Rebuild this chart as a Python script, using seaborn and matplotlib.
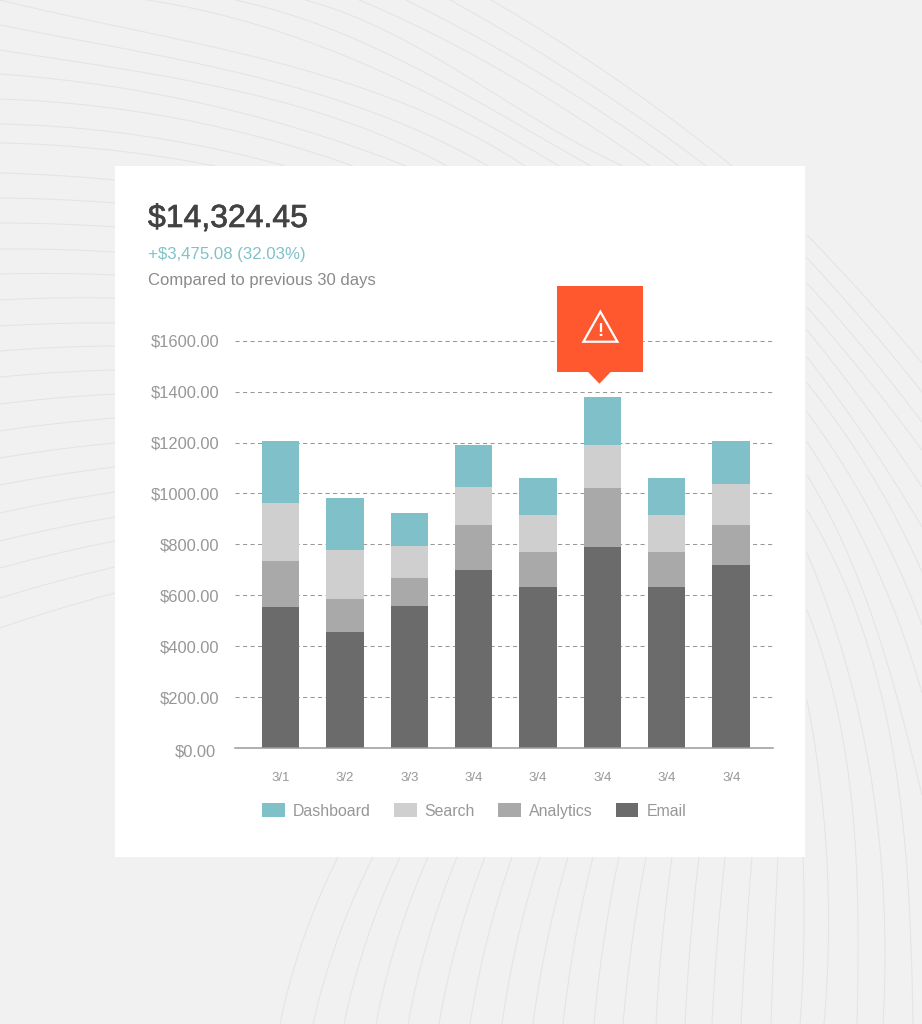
import numpy as np
import pandas as pd
import matplotlib
matplotlib.use("Agg")
import matplotlib.pyplot as plt
import matplotlib.transforms as mtrans
import matplotlib.patheffects as pe
from matplotlib.patches import Rectangle, Polygon
import seaborn as sns

# chart values
dates = ['3/1', '3/2', '3/3', '3/4', '3/4', '3/4', '3/4', '3/4']
email = [554, 456, 558, 700, 633, 790, 633, 719]
analytics = [181, 130, 110, 177, 137, 232, 137, 158]
search = [228, 192, 126, 149, 146, 169, 146, 161]
dashboard = [244, 205, 130, 165, 145, 189, 145, 169]
y_ticks = [0, 200, 400, 600, 800, 1000, 1200, 1400, 1600]
y_labels = ['$0.00', '$200.00', '$400.00', '$600.00', '$800.00', '$1000.00', '$1200.00', '$1400.00', '$1600.00']

colors = {'Dashboard': '#80C1C9', 'Search': '#CFCFCF', 'Analytics': '#A9A9A9', 'Email': '#6B6B6B'}
BG = '#F1F1F1'
ARC = '#E4E4E4'
LABEL = '#979797'
ALERT = '#FF582F'

# background arcs, in image pixels (decoration only)
left_y0 = [173, 198, 223, 249, 274, 300, 326, 351, 377, 404, 431, 458, 485, 513, 541, 568, 598, 628]
left_y1 = [180, 203, 227, 252, 275, 298, 323, 346, 370, 394, 418, 443, 467, 492, 517, 541, 567, 593]
top_arcs = [
    [(0, 143), (110, 150), (215, 166)],
    [(0, 124), (150, 137), (285, 166)],
    [(0, 99), (180, 119), (353, 166)],
    [(0, 74), (200, 103), (406, 166)],
    [(0, 50), (200, 83), (400, 143), (447, 166)],
    [(0, 25), (200, 64), (400, 123), (488, 166)],
    [(0, 0), (200, 44), (400, 102), (525, 166)],
    [(147, 0), (280, 32), (400, 80), (559, 166)],
    [(235, 0), (320, 25), (400, 60), (591, 166)],
    [(305, 0), (355, 17), (400, 38), (623, 166)],
    [(359, 0), (400, 18), (500, 70), (650, 166)],
    [(406, 0), (500, 50), (679, 166)],
    [(450, 0), (560, 65), (706, 166)],
    [(491, 0), (610, 75), (732, 166)],
]
right_arcs = [
    [(807, 235), (865, 297), (922, 363)],
    [(807, 258), (865, 323), (922, 392)],
    [(807, 283), (865, 350), (922, 422)],
    [(807, 307), (865, 376), (922, 450)],
    [(807, 330), (865, 405), (922, 487)],
    [(807, 357), (865, 437), (922, 527)],
    [(807, 383), (897, 520), (922, 572)],
    [(807, 412), (875, 520), (922, 625)],
    [(807, 442), (853, 520), (890, 600), (922, 693)],
    [(807, 475), (832, 520), (880, 640), (922, 795)],
    [(807, 510), (887, 720), (907, 870), (913, 1024)],
    [(807, 553), (877, 820), (885, 953), (883, 1024)],
    [(807, 610), (850, 787), (858, 920), (857, 1024)],
    [(807, 700), (824, 820), (828, 887), (824, 1024)],
    [(803, 857), (804, 930), (800, 1024)],
]
bottom_x0 = [338, 373, 400, 428, 457, 485, 512, 540, 568, 593, 619, 646, 672, 699, 725, 752, 778]
bottom_x1 = [280, 313, 344, 376, 408, 439, 470, 502, 533, 563, 594, 623, 656, 685, 712, 741, 771]


def smooth(pts):
    pts = np.array(pts, dtype=float)
    steps = np.r_[0, np.cumsum(np.hypot(*np.diff(pts, axis=0).T))]
    steps = steps / steps[-1]
    deg = len(pts) - 1
    t = np.linspace(0, 1, 80)
    return np.polyval(np.polyfit(steps, pts[:, 0], deg), t), np.polyval(np.polyfit(steps, pts[:, 1], deg), t)


sns.set_theme(style="white")
plt.rcParams['font.family'] = ['Liberation Sans', 'DejaVu Sans']

fig = plt.figure(figsize=(9.22, 10.24), dpi=100, facecolor=BG)

# full figure layer in pixel coordinates
bg = fig.add_axes([0, 0, 1, 1], zorder=0)
bg.set_xlim(0, 922)
bg.set_ylim(1024, 0)
bg.axis('off')

for y0, y1 in zip(left_y0, left_y1):
    x, y = smooth([(0, y0), (57, (y0 + y1) / 2 - 1), (115, y1)])
    bg.plot(x, y, color=ARC, lw=0.75)
for pts in top_arcs + right_arcs:
    x, y = smooth(pts)
    bg.plot(x, y, color=ARC, lw=0.75)
for i, (x0, x1) in enumerate(zip(bottom_x0, bottom_x1)):
    bulge = 6 * (1 - i / len(bottom_x0))
    x, y = smooth([(x0, 857), ((x0 + x1) / 2 - bulge, 940), (x1, 1024)])
    bg.plot(x, y, color=ARC, lw=0.75)

bg.add_patch(Rectangle((115, 166), 690, 691, facecolor='white', edgecolor='none', zorder=5))

title = bg.text(148, 219, '$14,324.45', fontsize=23, color='#424242', va='center', zorder=6)
title.set_path_effects([pe.withStroke(linewidth=0.5, foreground='#424242')])
bg.text(148, 254, '+$3,475.08 (32.03%)', fontsize=12.1, color='#7FC2C9', va='center', zorder=6)
bg.text(148, 281, 'Compared to previous 30 days', fontsize=12, color='#8A8A8A', va='center', zorder=6)

# stacked bars
ax = fig.add_axes([235 / 922, (1024 - 748) / 1024, 538 / 922, 420 / 1024], zorder=2)
ax.patch.set_alpha(0)

df = pd.DataFrame({'pos': range(len(dates)), 'Email': email, 'Analytics': analytics,
                   'Search': search, 'Dashboard': dashboard})
stack = ['Email', 'Analytics', 'Search', 'Dashboard']
totals = df[stack].cumsum(axis=1)

# tallest first so each shorter layer paints over it
for name in reversed(stack):
    sns.barplot(x=df['pos'], y=totals[name], color=colors[name], saturation=1,
                width=0.58, label=name, legend=False, ax=ax, zorder=3, linewidth=0, edgecolor='none')

ax.set_xlim(-0.706, 7.65)
ax.set_ylim(0, 1650)
ax.set_xticks(range(len(dates)))
ax.set_xticklabels(dates, fontsize=9.5, color=LABEL)
ax.set_yticks(y_ticks)
ax.set_yticklabels(y_labels, fontsize=11.9, color=LABEL)
ax.set_xlabel('')
ax.set_ylabel('')
ax.tick_params(axis='x', length=0, pad=17.5)
ax.tick_params(axis='y', length=0, pad=11)
ax.set_axisbelow(True)
ax.grid(False)
for v in y_ticks[1:]:
    ax.axhline(v, color='#999999', lw=0.75, ls=(0, (4, 3.2)), zorder=1)
sns.despine(ax=ax, left=True, top=True, right=True)
ax.spines['bottom'].set_color('#9A9A9A')
ax.spines['bottom'].set_linewidth(1.1)
ax.spines['bottom'].set_zorder(4)

# the $0.00 label sits a little lower and further left than the others
zero = ax.get_yticklabels()[0]
zero.set_transform(zero.get_transform() + mtrans.ScaledTranslation(-4 / 100, -3 / 100, fig.dpi_scale_trans))

handles, labels = ax.get_legend_handles_labels()
order = [labels.index(n) for n in reversed(stack)]
leg = ax.legend([handles[i] for i in order], [labels[i] for i in order], ncol=4, frameon=False,
                loc='center left', bbox_to_anchor=(262, 811), bbox_transform=bg.transData,
                fontsize=11.4, labelcolor=LABEL, borderpad=0, borderaxespad=0,
                handlelength=1.45, handleheight=0.9, handletextpad=0.5, columnspacing=1.45)

# alert callout pinned to the tallest bar
top = fig.add_axes([0, 0, 1, 1], zorder=3)
top.set_xlim(0, 922)
top.set_ylim(1024, 0)
top.axis('off')
peak = int(totals['Dashboard'].idxmax())
fig.canvas.draw()
px = ax.transData.transform((peak, totals['Dashboard'][peak]))
cx, cy = top.transData.inverted().transform(px)
cx = cx - 3
cy = cy - 13
top.add_patch(Rectangle((cx - 42, cy - 98), 86, 86, facecolor=ALERT, edgecolor='none'))
top.add_patch(Polygon([(cx - 12, cy - 12.5), (cx, cy), (cx + 12, cy - 12.5)], facecolor=ALERT, edgecolor='none'))
top.add_patch(Polygon([(cx + 1, cy - 72), (cx - 16, cy - 42), (cx + 18, cy - 42)], closed=True, fill=False,
                      edgecolor='white', lw=1.6, joinstyle='miter'))
top.text(cx + 1, cy - 52, '!', color='white', fontsize=13, fontweight='bold', ha='center', va='center')

fig.savefig('out.png', dpi=100, facecolor=BG)
